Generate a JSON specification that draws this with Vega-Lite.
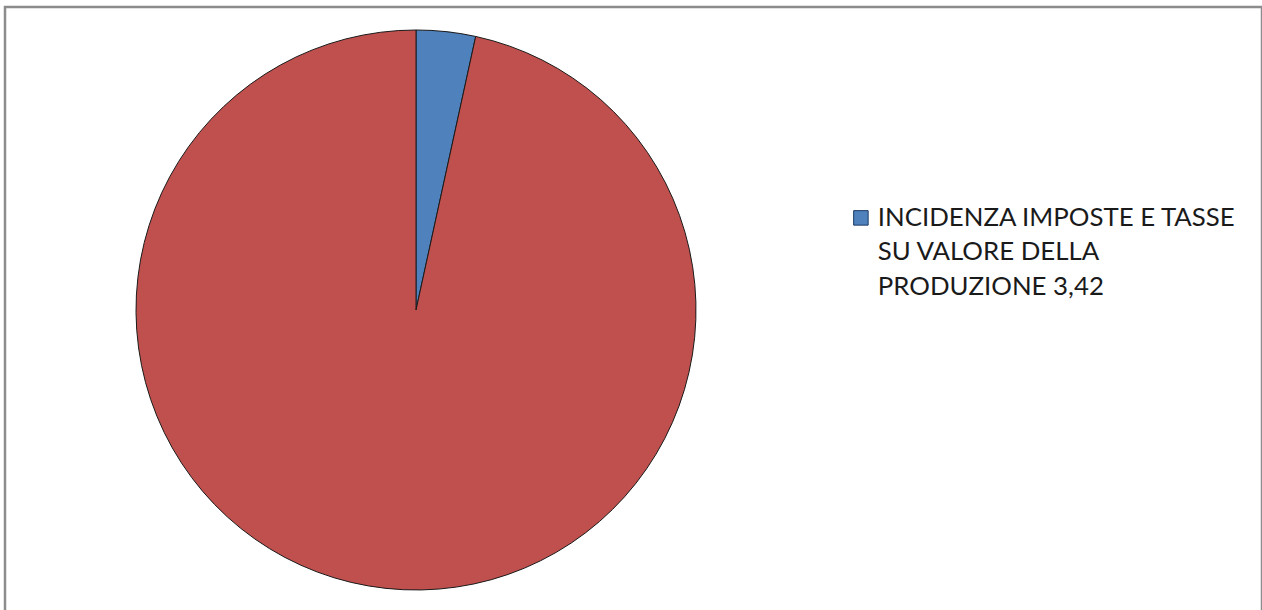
{
  "$schema": "https://vega.github.io/schema/vega-lite/v6.json",
  "autosize": {"type": "fit", "contains": "padding"},
  "width": 1262,
  "height": 610,
  "padding": {"left": 5, "top": 7, "right": 0, "bottom": -4},
  "background": "white",
  "config": {
    "view": {"stroke": "#8c8c8c", "strokeWidth": 2.5},
    "font": "Lato",
    "style": {"guide-label": {"lineHeight": 34.5}}
  },
  "data": {
    "values": [
      {"categoria": "INCIDENZA IMPOSTE E TASSE SU VALORE DELLA PRODUZIONE 3,42", "valore": 3.42, "ordine": 1},
      {"categoria": "ALTRO", "valore": 96.58, "ordine": 2}
    ]
  },
  "mark": {"type": "arc", "stroke": "#1a1a1a", "strokeWidth": 1, "outerRadius": 280},
  "encoding": {
    "theta": {"field": "valore", "type": "quantitative", "stack": true},
    "order": {"field": "ordine", "type": "quantitative"},
    "x": {"value": 411},
    "y": {"value": 303},
    "color": {
      "field": "categoria",
      "type": "nominal",
      "scale": {
        "domain": ["INCIDENZA IMPOSTE E TASSE SU VALORE DELLA PRODUZIONE 3,42", "ALTRO"],
        "range": ["#4F81BD", "#C0504D"]
      },
      "legend": {
        "values": ["INCIDENZA IMPOSTE E TASSE SU VALORE DELLA PRODUZIONE 3,42"],
        "title": null,
        "orient": "none",
        "legendX": 843,
        "legendY": 198,
        "symbolType": "square",
        "symbolSize": 210,
        "symbolStrokeColor": "#1a3a66",
        "symbolStrokeWidth": 1,
        "labelFontSize": 25.8,
        "labelColor": "#1a1a1a",
        "labelLimit": 600,
        "labelOffset": 4,
        "labelBaseline": "middle",
        "labelExpr": "datum.label == 'INCIDENZA IMPOSTE E TASSE SU VALORE DELLA PRODUZIONE 3,42' ? ['INCIDENZA IMPOSTE E TASSE', 'SU VALORE DELLA', 'PRODUZIONE 3,42'] : datum.label"
      }
    }
  }
}
